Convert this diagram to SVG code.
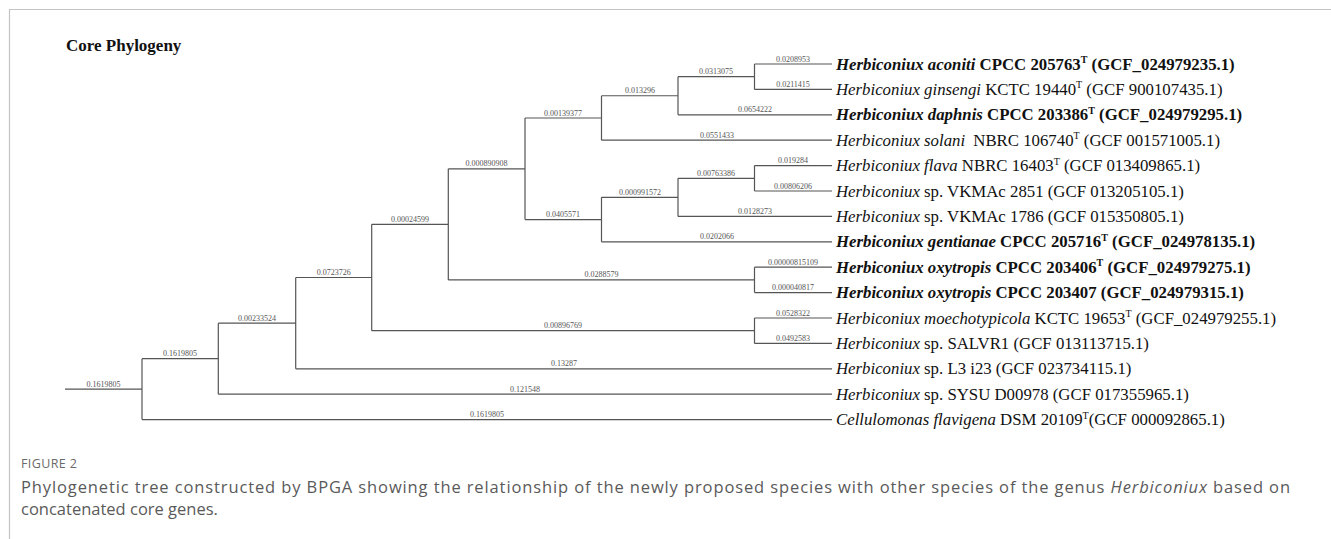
<svg xmlns="http://www.w3.org/2000/svg" width="1331" height="539" viewBox="0 0 1331 539">
<style>
  .frame{stroke:#c4c4c4;stroke-width:1.2;fill:none}
  .title{font-family:"Liberation Serif",serif;font-weight:bold;font-size:17px;fill:#111}
  .br{stroke:#555;stroke-width:1.2;fill:none}
  .bl{font-family:"Liberation Serif",serif;font-size:8px;fill:#555;text-anchor:middle}
  .leaf{font-family:"Liberation Serif",serif;font-size:16.8px;fill:#111}
  .b{font-weight:bold}
  .i{font-style:italic}
  .sup{font-size:10px}
  .cap1{font-family:"Open Sans",sans-serif;font-size:12.5px;fill:#6a6a6a;letter-spacing:0.4px}
  .cap{font-family:"Open Sans",sans-serif;font-size:16.5px;fill:#5a5a5a}
</style>
<path class="frame" d="M1331 9.5H9.5V539"/>
<text class="title" x="66" y="51">Core Phylogeny</text>

<g id="connectors">
  <path class="br" d="M65 389.15H142 M142 358.7V419.6 M142 358.7H218.3 M142 419.6H832
   M218.3 323.15V394.2 M218.3 323.15H295.7 M218.3 394.2H832
   M295.7 277.5V368.8 M295.7 277.5H371.7 M295.7 368.8H832
   M371.7 224.35V330.7 M371.7 224.35H448.3 M371.7 330.7H754.5
   M448.3 168.8V279.9 M448.3 168.8H525 M448.3 279.9H754.5
   M525 118V219.6 M525 118H601.5 M525 219.6H601.5
   M601.5 95.75V140.2 M601.5 95.75H678 M601.5 140.2H832
   M678 76.7V114.8 M678 76.7H754.5 M678 114.8H832
   M754.5 64V89.4 M754.5 64H832 M754.5 89.4H832
   M601.5 197.35V241.8 M601.5 197.35H678 M601.5 241.8H832
   M678 178.3V216.4 M678 178.3H754.5 M678 216.4H832
   M754.5 165.6V191 M754.5 165.6H832 M754.5 191H832
   M754.5 267.2V292.6 M754.5 267.2H832 M754.5 292.6H832
   M754.5 318V343.4 M754.5 318H832 M754.5 343.4H832"/>
  <g id="branch-labels">
    <text class="bl" x="103.5" y="386.6">0.1619805</text>
    <text class="bl" x="180" y="356.2">0.1619805</text>
    <text class="bl" x="487" y="417.1">0.1619805</text>
    <text class="bl" x="257" y="320.6">0.00233524</text>
    <text class="bl" x="525" y="391.7">0.121548</text>
    <text class="bl" x="333.7" y="275">0.0723726</text>
    <text class="bl" x="564" y="366.3">0.13287</text>
    <text class="bl" x="410" y="221.8">0.00024599</text>
    <text class="bl" x="563" y="328.2">0.00896769</text>
    <text class="bl" x="486.6" y="166.3">0.000890908</text>
    <text class="bl" x="601.4" y="277.4">0.0288579</text>
    <text class="bl" x="563" y="115.5">0.00139377</text>
    <text class="bl" x="563" y="217.1">0.0405571</text>
    <text class="bl" x="640" y="93.2">0.013296</text>
    <text class="bl" x="717" y="137.7">0.0551433</text>
    <text class="bl" x="716" y="74.2">0.0313075</text>
    <text class="bl" x="755" y="112.3">0.0654222</text>
    <text class="bl" x="793" y="61.5">0.0208953</text>
    <text class="bl" x="793" y="86.9">0.0211415</text>
    <text class="bl" x="640" y="194.8">0.000991572</text>
    <text class="bl" x="717" y="239.3">0.0202066</text>
    <text class="bl" x="716" y="175.8">0.00763386</text>
    <text class="bl" x="755" y="213.9">0.0128273</text>
    <text class="bl" x="793" y="163.1">0.019284</text>
    <text class="bl" x="793" y="188.5">0.00806206</text>
    <text class="bl" x="793" y="264.7">0.00000815109</text>
    <text class="bl" x="793" y="290.1">0.000040817</text>
    <text class="bl" x="793" y="315.5">0.0528322</text>
    <text class="bl" x="793" y="340.9">0.0492583</text>
  </g>
</g>

<g id="leaf-aconiti"><text class="leaf b" x="836" y="69.5"><tspan class="i">Herbiconiux aconiti</tspan> CPCC 205763<tspan class="sup" dy="-6.5">T</tspan><tspan dy="6.5"> (GCF_024979235.1)</tspan></text></g>
<g id="leaf-ginsengi"><text class="leaf" x="836" y="94.9"><tspan class="i">Herbiconiux ginsengi</tspan> KCTC 19440<tspan class="sup" dy="-6.5">T</tspan><tspan dy="6.5"> (GCF 900107435.1)</tspan></text></g>
<g id="leaf-daphnis"><text class="leaf b" x="836" y="120.3"><tspan class="i">Herbiconiux daphnis</tspan> CPCC 203386<tspan class="sup" dy="-6.5">T</tspan><tspan dy="6.5"> (GCF_024979295.1)</tspan></text></g>
<g id="leaf-solani"><text class="leaf" x="836" y="145.7"><tspan class="i">Herbiconiux solani</tspan><tspan dx="4"> NBRC 106740</tspan><tspan class="sup" dy="-6.5">T</tspan><tspan dy="6.5"> (GCF 001571005.1)</tspan></text></g>
<g id="leaf-flava"><text class="leaf" x="836" y="171.1"><tspan class="i">Herbiconiux flava</tspan> NBRC 16403<tspan class="sup" dy="-6.5">T</tspan><tspan dy="6.5"> (GCF 013409865.1)</tspan></text></g>
<g id="leaf-vkmac2851"><text class="leaf" x="836" y="196.5"><tspan class="i">Herbiconiux</tspan> sp. VKMAc 2851 (GCF 013205105.1)</text></g>
<g id="leaf-vkmac1786"><text class="leaf" x="836" y="221.9"><tspan class="i">Herbiconiux</tspan> sp. VKMAc 1786 (GCF 015350805.1)</text></g>
<g id="leaf-gentianae"><text class="leaf b" x="836" y="247.3"><tspan class="i">Herbiconiux gentianae</tspan> CPCC 205716<tspan class="sup" dy="-6.5">T</tspan><tspan dy="6.5"> (GCF_024978135.1)</tspan></text></g>
<g id="leaf-oxytropis-203406"><text class="leaf b" x="836" y="272.7"><tspan class="i">Herbiconiux oxytropis</tspan> CPCC 203406<tspan class="sup" dy="-6.5">T</tspan><tspan dy="6.5"> (GCF_024979275.1)</tspan></text></g>
<g id="leaf-oxytropis-203407"><text class="leaf b" x="836" y="298.1"><tspan class="i">Herbiconiux oxytropis</tspan> CPCC 203407 (GCF_024979315.1)</text></g>
<g id="leaf-moechotypicola"><text class="leaf" x="836" y="323.5"><tspan class="i">Herbiconiux moechotypicola</tspan> KCTC 19653<tspan class="sup" dy="-6.5">T</tspan><tspan dy="6.5"> (GCF_024979255.1)</tspan></text></g>
<g id="leaf-salvr1"><text class="leaf" x="836" y="348.9"><tspan class="i">Herbiconiux</tspan> sp. SALVR1 (GCF 013113715.1)</text></g>
<g id="leaf-l3i23"><text class="leaf" x="836" y="374.3"><tspan class="i">Herbiconiux</tspan> sp. L3 i23 (GCF 023734115.1)</text></g>
<g id="leaf-sysu"><text class="leaf" x="836" y="399.7"><tspan class="i">Herbiconiux</tspan> sp. SYSU D00978 (GCF 017355965.1)</text></g>
<g id="leaf-cellulomonas"><text class="leaf" x="836" y="425.1"><tspan class="i">Cellulomonas flavigena</tspan> DSM 20109<tspan class="sup" dy="-6.5">T</tspan><tspan dy="6.5">(GCF 000092865.1)</tspan></text></g>

<g id="caption">
  <text class="cap1" x="21" y="468">FIGURE 2</text>
  <text class="cap" x="21" y="493" textLength="1269" lengthAdjust="spacing">Phylogenetic tree constructed by BPGA showing the relationship of the newly proposed species with other species of the genus <tspan font-style="italic">Herbiconiux</tspan> based on</text>
  <text class="cap" x="21" y="515">concatenated core genes.</text>
</g>
</svg>
